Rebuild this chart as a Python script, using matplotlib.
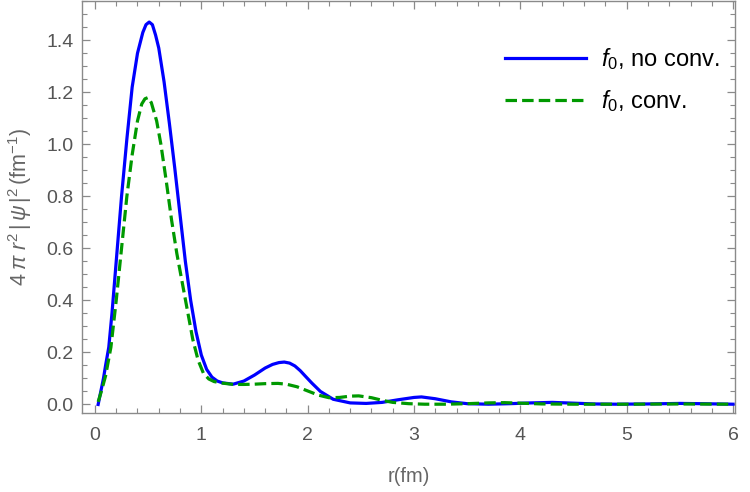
# coding:utf-8

import matplotlib
matplotlib.use('Agg')
import matplotlib.pyplot as plt
from matplotlib.ticker import MultipleLocator

# radial density
r_noconv = [0.03, 0.05, 0.08, 0.10, 0.13, 0.16, 0.20, 0.25, 0.30, 0.35, 0.40, 0.45,
            0.48, 0.51, 0.54, 0.57, 0.60, 0.65, 0.70, 0.75, 0.80, 0.85, 0.90, 0.95, 1.00,
            1.05, 1.10, 1.15, 1.20, 1.30, 1.40, 1.50, 1.60, 1.67, 1.73, 1.78, 1.83, 1.88, 1.93,
            1.98, 2.04, 2.12, 2.24, 2.40, 2.55, 2.70, 2.85, 3.00, 3.07, 3.20, 3.35, 3.50,
            3.70, 3.90, 4.10, 4.30, 4.50, 4.70, 4.90, 5.20, 5.50, 5.70, 6.00]
rho_noconv = [0.0, 0.04, 0.10, 0.15, 0.22, 0.35, 0.55, 0.80, 1.02, 1.22, 1.35, 1.43,
              1.46, 1.47, 1.46, 1.42, 1.37, 1.24, 1.08, 0.91, 0.73, 0.55, 0.40, 0.28, 0.19,
              0.135, 0.105, 0.09, 0.083, 0.078, 0.09, 0.113, 0.14, 0.154, 0.161, 0.163, 0.159, 0.148, 0.13,
              0.108, 0.082, 0.05, 0.02, 0.006, 0.004, 0.008, 0.018, 0.027, 0.029, 0.022, 0.010, 0.003,
              0.001, 0.003, 0.006, 0.008, 0.005, 0.002, 0.001, 0.002, 0.004, 0.003, 0.001]

r_conv = [0.03, 0.06, 0.10, 0.15, 0.20, 0.25, 0.30, 0.35, 0.40, 0.44, 0.47, 0.50, 0.53,
          0.58, 0.62, 0.67, 0.72, 0.77, 0.82, 0.87, 0.92, 0.97, 1.02, 1.07, 1.12,
          1.20, 1.30, 1.40, 1.50, 1.60, 1.72, 1.80, 1.90, 2.00, 2.10, 2.20, 2.30,
          2.40, 2.48, 2.60, 2.70, 2.80, 2.95, 3.10, 3.30, 3.50, 3.70, 3.85, 4.00,
          4.20, 4.50, 5.00, 5.50, 6.00]
rho_conv = [0.01, 0.05, 0.11, 0.22, 0.40, 0.60, 0.80, 0.96, 1.09, 1.155, 1.175, 1.18, 1.16,
            1.09, 1.00, 0.86, 0.71, 0.58, 0.47, 0.36, 0.25, 0.17, 0.12, 0.098, 0.088,
            0.082, 0.077, 0.077, 0.078, 0.080, 0.081, 0.078, 0.068, 0.052, 0.036, 0.026, 0.027,
            0.032, 0.033, 0.026, 0.016, 0.008, 0.003, 0.001, 0.001, 0.003, 0.006, 0.007, 0.005,
            0.002, 0.001, 0.001, 0.002, 0.001]

label_noconv = r'$f_0$, no conv.'
label_conv = r'$f_0$, conv.'

plt.rcParams['font.family'] = ['Liberation Sans', 'DejaVu Sans']
plt.rcParams['mathtext.fontset'] = 'custom'
plt.rcParams['mathtext.rm'] = 'Liberation Sans'
plt.rcParams['mathtext.it'] = 'Liberation Sans:italic'
plt.rcParams['mathtext.bf'] = 'Liberation Sans:bold'

fig = plt.figure(figsize=(7.5, 4.92), dpi=100)
ax = fig.add_axes([0.1093, 0.161, 0.871, 0.837])

ax.plot(r_noconv, rho_noconv, color='#0000ff', lw=2.3, label=label_noconv)
ax.plot(r_conv, rho_conv, color='#009900', lw=2.3, dashes=(3.6, 1.6), label=label_conv)

ax.set_xlim(-0.122, 6.02)
ax.set_ylim(-0.032, 1.551)

ax.xaxis.set_major_locator(MultipleLocator(1))
ax.xaxis.set_minor_locator(MultipleLocator(0.2))
ax.yaxis.set_major_locator(MultipleLocator(0.2))
ax.yaxis.set_minor_locator(MultipleLocator(0.05))
ax.yaxis.set_major_formatter(matplotlib.ticker.FormatStrFormatter('%.1f'))

grey = '#8a8a8a'
for sp in ax.spines.values():
    sp.set_color(grey)
    sp.set_linewidth(1.0)
ax.tick_params(which='both', direction='in', top=True, right=True, color=grey,
               labelcolor='#555555', labelsize=14)
ax.tick_params(which='major', length=6, width=0.9)
ax.tick_params(which='minor', length=3.5, width=0.8)
ax.tick_params(axis='x', which='major', pad=10)
ax.tick_params(axis='y', which='major', pad=6)

ax.set_xlabel('r(fm)', fontsize=14.5, color='#666666', labelpad=17)
ax.set_ylabel(r'$4\;\pi\;r^2\,|\,\psi\,|^2\,(\mathrm{fm}^{-1})$', fontsize=15.5,
              color='#666666', labelpad=9)

leg = ax.legend(loc='upper left', frameon=False, fontsize=17, handlelength=3.4,
                bbox_to_anchor=(0.648, 0.891), borderpad=0, borderaxespad=0,
                labelspacing=0.7, handletextpad=0.65)

fig.savefig('out.png', dpi=100)
